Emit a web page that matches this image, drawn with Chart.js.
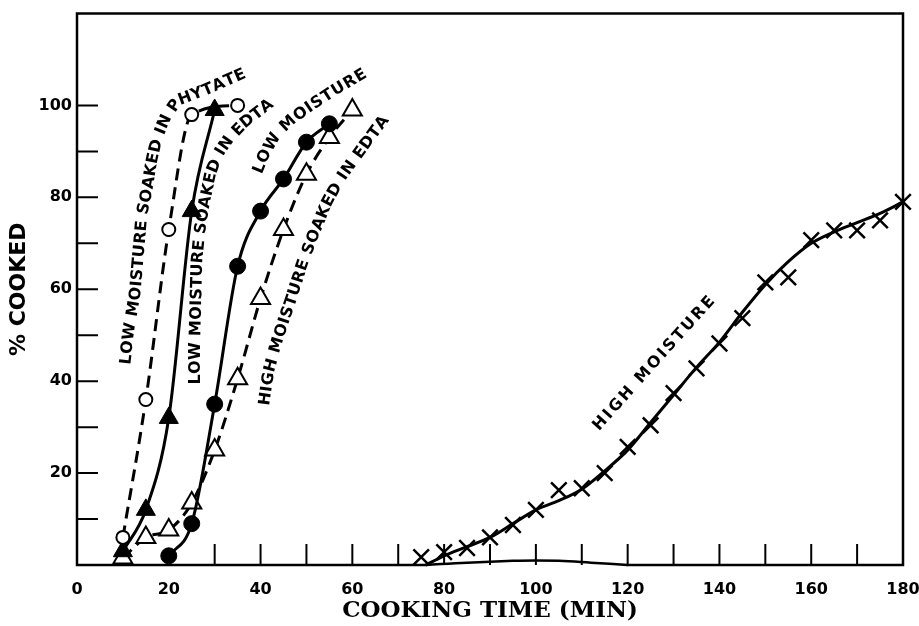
<!DOCTYPE html>
<html>
<head>
<meta charset="utf-8">
<script src="https://cdn.jsdelivr.net/npm/chart.js@4.4.0/dist/chart.umd.min.js"></script>
<style>
  html, body { margin: 0; padding: 0; background: #fff; }
  canvas { display: block; }
</style>
</head>
<body>
<canvas id="cookChart" width="919" height="626"></canvas>
<script>
// cooking curves (minutes, % cooked)
const phytateTime = [10, 15, 20, 25, 35];
const phytateCooked = [6, 36, 73, 98, 100];

const lowEdtaTime = [10, 15, 20, 25, 30];
const lowEdtaCooked = [3, 12, 32, 77, 99];

const lowMoistTime = [20, 25, 30, 35, 40, 45, 50, 55];
const lowMoistCooked = [2, 9, 35, 65, 77, 84, 92, 96];

const highEdtaTime = [10, 15, 20, 25, 30, 35, 40, 45, 50, 55, 60];
const highEdtaCooked = [1.5, 6, 7.6, 13.5, 25, 40.5, 58, 73, 85, 93, 99];

const highMoistTime = [75, 80, 85, 90, 95, 100, 105, 110, 115, 120, 125, 130, 135, 140, 145, 150, 155, 160, 165, 170, 175, 180];
const highMoistCooked = [1.7, 2.8, 3.7, 6, 8.7, 12, 16.3, 16.7, 20, 25.7, 30.4, 37.4, 42.8, 48.2, 53.7, 61.5, 62.6, 70.7, 72.8, 72.8, 75, 79];

// the hand-drawn curve through the high moisture points
const highFitTime = [76, 80, 85, 90, 95, 100, 105, 110, 115, 120, 125, 130, 135, 140, 145, 150, 155, 160, 165, 170, 175, 180];
const highFitCooked = [0, 2, 4, 6, 9, 12, 14, 16.5, 20.5, 25, 31, 37, 43, 48.5, 55, 61, 66, 70, 72.5, 74.5, 76.5, 79];

// small wobble in the drawn time axis
const baseTime = [76, 85, 95, 100, 105, 112, 120];
const baseCooked = [0, 0.5, 0.9, 1.0, 0.9, 0.5, 0];

const xTickLabels = [0, 20, 40, 60, 80, 100, 120, 140, 160, 180];
const yTickLabels = [20, 40, 60, 80, 100];
const xTickMarks = [30, 40, 50, 60, 70, 80, 90, 100, 110, 120, 130, 140, 150, 160, 170];
const yTickMarks = [10, 20, 30, 40, 50, 60, 70, 80, 90, 100];

const toPoints = (xs, ys) => xs.map((x, i) => ({ x: x, y: ys[i] }));

// curve labels: text laid along a path given in (minutes, % cooked)
const curveLabels = [
  { text: 'LOW MOISTURE SOAKED IN PHYTATE',
    path: [[10.68, 43.6], [11.55, 51.0], [12.86, 58.6], [13.73, 68.4], [14.38, 76.0], [15.47, 81.4], [16.56, 87.9], [17.65, 92.7], [19.39, 97.0], [22.0, 100.9], [27.9, 103.1], [35.96, 106.6]] },
  { text: 'LOW MOISTURE SOAKED IN EDTA',
    path: [[25.93, 39.3], [25.93, 48.8], [26.15, 57.5], [26.37, 66.2], [27.02, 72.7], [28.11, 79.2], [29.42, 85.3], [31.16, 89.6], [33.34, 92.7], [36.61, 96.1], [42.06, 100.3]] },
  { text: 'LOW MOISTURE',
    path: [[39.44, 85.3], [41.19, 89.6], [43.36, 93.3], [46.42, 96.4], [50.77, 99.6], [56.22, 103.1], [62.76, 107.0]] },
  { text: 'HIGH MOISTURE SOAKED IN EDTA',
    path: [[40.97, 34.7], [42.06, 42.3], [43.58, 47.7], [45.33, 53.2], [47.07, 58.2], [49.25, 65.1], [51.86, 72.0], [54.7, 78.8], [57.75, 84.2], [61.67, 89.6], [67.12, 97.0]] },
  { text: 'HIGH MOISTURE',
    path: [[113.1, 29.7], [125.7, 43.8], [138.4, 57.9]] },
];

function textAlongPath(ctx, text, pts) {
  const seg = [0];
  for (let i = 1; i < pts.length; i++) {
    seg.push(seg[i - 1] + Math.hypot(pts[i].x - pts[i - 1].x, pts[i].y - pts[i - 1].y));
  }
  const total = seg[seg.length - 1];
  const at = (s) => {
    let i = 1;
    while (i < seg.length - 1 && seg[i] < s) i++;
    const f = (s - seg[i - 1]) / (seg[i] - seg[i - 1] || 1);
    return {
      x: pts[i - 1].x + f * (pts[i].x - pts[i - 1].x),
      y: pts[i - 1].y + f * (pts[i].y - pts[i - 1].y),
    };
  };
  const chars = [...text];
  const width = ctx.measureText(text).width;
  const spacing = Math.max(0, (total - width) / (chars.length - 1));
  let s = spacing > 0 ? 0 : (total - width) / 2;
  chars.forEach((ch) => {
    const w = ctx.measureText(ch).width;
    const mid = s + w / 2;
    const p = at(mid);
    const a = at(mid - 5);
    const b = at(mid + 5);
    ctx.save();
    ctx.translate(p.x, p.y);
    ctx.rotate(Math.atan2(b.y - a.y, b.x - a.x));
    ctx.fillText(ch, 0, 0);
    ctx.restore();
    s += w + spacing;
  });
}

const framePlugin = {
  id: 'frame',
  afterDraw(chart) {
    const { ctx, chartArea } = chart;
    const { left, right, top, bottom } = chartArea;
    const xs = chart.scales.x;
    const ys = chart.scales.y;
    ctx.save();
    ctx.strokeStyle = '#000';
    ctx.lineWidth = 2.5;
    ctx.lineCap = 'square';
    ctx.beginPath();
    ctx.moveTo(xs.getPixelForValue(baseTime[0]), bottom);
    ctx.lineTo(left, bottom);
    ctx.lineTo(left, top);
    ctx.lineTo(right, top);
    ctx.lineTo(right, bottom);
    ctx.lineTo(xs.getPixelForValue(baseTime[baseTime.length - 1]), bottom);
    ctx.stroke();

    ctx.lineWidth = 2;
    ctx.lineCap = 'butt';
    ctx.beginPath();
    xTickMarks.forEach((t) => {
      const px = xs.getPixelForValue(t);
      ctx.moveTo(px, bottom);
      ctx.lineTo(px, bottom - 21);
    });
    yTickMarks.forEach((v) => {
      const py = ys.getPixelForValue(v);
      ctx.moveTo(left, py);
      ctx.lineTo(left + 21, py);
    });
    ctx.stroke();

    ctx.fillStyle = '#000';
    ctx.font = 'bold 16px "DejaVu Sans", sans-serif';
    ctx.textAlign = 'center';
    ctx.textBaseline = 'middle';
    curveLabels.forEach((label) => {
      const pts = label.path.map(([t, v]) => ({ x: xs.getPixelForValue(t), y: ys.getPixelForValue(v) }));
      textAlongPath(ctx, label.text, pts);
    });
    ctx.restore();
  },
};

new Chart(document.getElementById('cookChart').getContext('2d'), {
  type: 'scatter',
  data: {
    datasets: [
      {
        label: 'Low moisture soaked in phytate',
        data: toPoints(phytateTime, phytateCooked),
        showLine: true,
        borderColor: '#000',
        borderWidth: 3,
        borderDash: [12, 7],
        cubicInterpolationMode: 'monotone',
        pointStyle: 'circle',
        pointRadius: 6.5,
        pointBorderWidth: 2,
        pointBackgroundColor: '#fff',
        pointBorderColor: '#000',
        clip: false,
      },
      {
        label: 'Low moisture soaked in EDTA',
        data: toPoints(lowEdtaTime, lowEdtaCooked),
        showLine: true,
        borderColor: '#000',
        borderWidth: 3,
        cubicInterpolationMode: 'monotone',
        pointStyle: 'triangle',
        pointRadius: 11,
        pointBorderWidth: 1,
        pointBackgroundColor: '#000',
        pointBorderColor: '#000',
        clip: false,
      },
      {
        label: 'Low moisture',
        data: toPoints(lowMoistTime, lowMoistCooked),
        showLine: true,
        borderColor: '#000',
        borderWidth: 3,
        cubicInterpolationMode: 'monotone',
        pointStyle: 'circle',
        pointRadius: 8,
        pointBorderWidth: 1,
        pointBackgroundColor: '#000',
        pointBorderColor: '#000',
        clip: false,
      },
      {
        label: 'High moisture soaked in EDTA',
        data: toPoints(highEdtaTime, highEdtaCooked),
        showLine: true,
        borderColor: '#000',
        borderWidth: 3,
        borderDash: [12, 7],
        cubicInterpolationMode: 'monotone',
        pointStyle: 'triangle',
        pointRadius: 11,
        pointBorderWidth: 2,
        pointBackgroundColor: '#fff',
        pointBorderColor: '#000',
        clip: false,
      },
      {
        label: 'High moisture',
        data: toPoints(highMoistTime, highMoistCooked),
        showLine: false,
        pointStyle: 'crossRot',
        pointRadius: 11,
        pointBorderWidth: 2.5,
        pointBorderColor: '#000',
        clip: false,
      },
      {
        label: 'High moisture curve',
        data: toPoints(highFitTime, highFitCooked),
        showLine: true,
        borderColor: '#000',
        borderWidth: 3,
        cubicInterpolationMode: 'monotone',
        pointRadius: 0,
        clip: false,
      },
      {
        label: 'Axis',
        data: toPoints(baseTime, baseCooked),
        showLine: true,
        borderColor: '#000',
        borderWidth: 2.5,
        tension: 0.4,
        pointRadius: 0,
        clip: false,
      },
    ],
  },
  options: {
    responsive: false,
    animation: false,
    events: [],
    layout: { padding: { top: 12, right: 16, left: 0, bottom: 0 } },
    plugins: {
      legend: { display: false },
      tooltip: { enabled: false },
    },
    scales: {
      x: {
        type: 'linear',
        min: 0,
        max: 180,
        grid: { display: false, drawTicks: false },
        border: { display: false },
        afterFit: (scale) => {
          scale.height = 61;
          scale.paddingLeft = 0;
          scale.paddingRight = 0;
        },
        ticks: {
          stepSize: 20,
          autoSkip: false,
          maxRotation: 0,
          padding: 15,
          color: '#000',
          font: { family: '"DejaVu Sans", sans-serif', size: 16, weight: 'bold' },
          callback: (value) => (xTickLabels.includes(value) ? value : ''),
        },
        title: {
          display: true,
          text: 'COOKING TIME (MIN)',
          color: '#000',
          padding: { top: 0, bottom: 1 },
          font: { family: '"DejaVu Serif", serif', size: 23, weight: 'bold' },
        },
      },
      y: {
        type: 'linear',
        min: 0,
        max: 120,
        grid: { display: false, drawTicks: false },
        border: { display: false },
        afterFit: (scale) => {
          scale.width = 77;
          scale.paddingTop = 0;
          scale.paddingBottom = 0;
        },
        ticks: {
          stepSize: 10,
          autoSkip: false,
          padding: 5,
          color: '#000',
          font: { family: '"DejaVu Sans", sans-serif', size: 16, weight: 'bold' },
          callback: (value) => (yTickLabels.includes(value) ? value : ''),
        },
        title: {
          display: true,
          text: '% COOKED',
          color: '#000',
          padding: { top: 6, bottom: 0 },
          font: { family: '"DejaVu Sans", sans-serif', size: 22, weight: 'bold' },
        },
      },
    },
  },
  plugins: [framePlugin],
});
</script>
</body>
</html>
